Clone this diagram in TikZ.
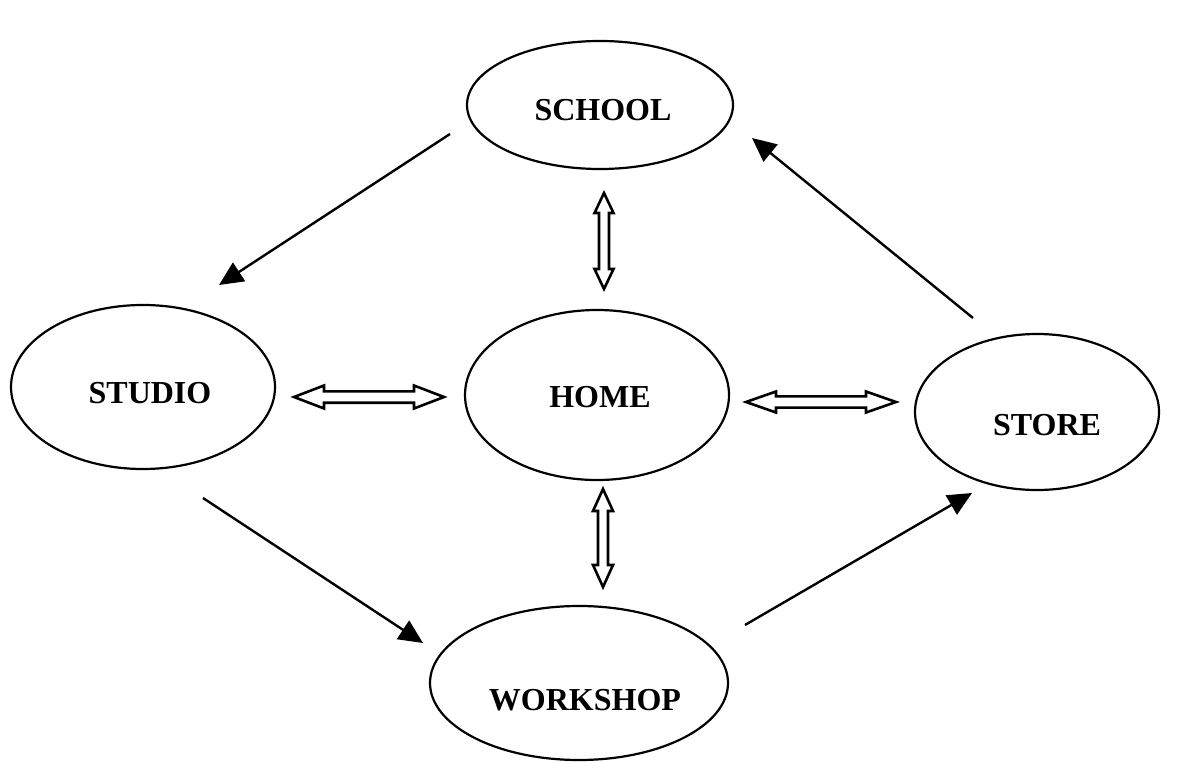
\documentclass[tikz,border=0pt]{standalone}
\usepackage{fontspec}
\setmainfont{Liberation Serif}
\usetikzlibrary{arrows.meta}
\begin{document}
\begin{tikzpicture}[x=1pt,y=-1pt,
  placeline/.style={line width=2.2pt},
  lbl/.style={font=\fontsize{32}{36}\selectfont\bfseries},
  flow/.style={line width=2.4pt, -{Triangle[length=24pt,width=22pt]}},
  hollowarr/.style={draw, line width=2.6pt, fill=white, line join=miter}]
\useasboundingbox (0,0) rectangle (1180,762);
% places
\draw[placeline] (600,105) ellipse [x radius=133, y radius=64];
\node[lbl] (school) at (603,110) {SCHOOL};
\draw[placeline] (143,387) ellipse [x radius=132, y radius=82];
\node[lbl] (studio) at (150,393) {STUDIO};
\draw[placeline] (597,395) ellipse [x radius=132, y radius=85];
\node[lbl] (home) at (600,397) {HOME};
\draw[placeline] (1037,412) ellipse [x radius=122, y radius=78];
\node[lbl] (store) at (1047,425) {STORE};
\draw[placeline] (579,683) ellipse [x radius=149, y radius=77];
\node[lbl] (workshop) at (585,700) {WORKSHOP};
% one-way arrows
\coordinate (a1s) at (450,134); \coordinate (a1e) at (219,285);
\coordinate (a2s) at (973,318); \coordinate (a2e) at (752,138);
\coordinate (a3s) at (203,498); \coordinate (a3e) at (423,643);
\coordinate (a4s) at (745,625); \coordinate (a4e) at (972,493);
\draw[flow] (a1s) -- (a1e);
\draw[flow] (a2s) -- (a2e);
\draw[flow] (a3s) -- (a3e);
\draw[flow] (a4s) -- (a4e);
% hollow double arrows
\newcommand{\hollowH}[6]{%
  \draw[hollowarr] (#1,#3) -- ++(#4,-#5) -- ++(0,#5-#6) -- (#2-#4,#3-#6)
   -- ++(0,-#5+#6) -- (#2,#3) -- ++(-#4,#5) -- ++(0,-#5+#6)
   -- (#1+#4,#3+#6) -- ++(0,#5-#6) -- cycle;}
\newcommand{\hollowV}[6]{%
  \draw[hollowarr] (#3,#1) -- ++(-#5,#4) -- ++(#5-#6,0) -- (#3-#6,#2-#4)
   -- ++(-#5+#6,0) -- (#3,#2) -- ++(#5,-#4) -- ++(-#5+#6,0)
   -- (#3+#6,#1+#4) -- ++(#5-#6,0) -- cycle;}
\hollowH{294}{444}{397}{30}{11.5}{5.7}
\hollowH{746}{896}{402}{30}{10.5}{5.6}
\hollowV{193}{289}{604}{20}{9.5}{5}
\hollowV{489}{587}{603}{22}{10}{5}
\end{tikzpicture}
\end{document}
